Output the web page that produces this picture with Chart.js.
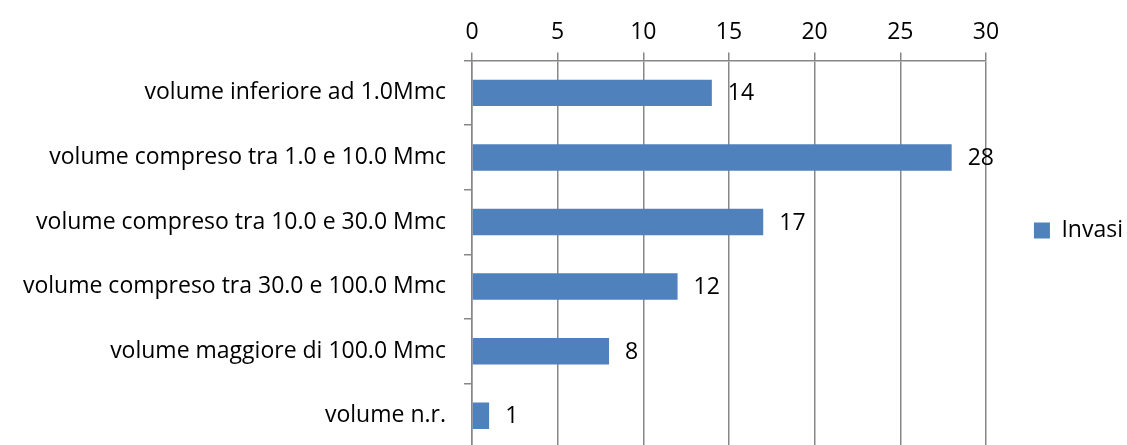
<!DOCTYPE html>
<html lang="it">
<head>
    <meta charset="UTF-8">
    <title>Invasi per volume</title>
    <style>
        html, body {
            margin: 0;
            padding: 0;
            background: #ffffff;
            overflow: hidden;
        }
        canvas {
            display: block;
        }
    </style>
</head>
<body>
    <canvas id="invasiChart" width="1127" height="448"></canvas>

    <script src="https://cdn.jsdelivr.net/npm/chart.js"></script>
    <script>
        // Data
        const categories = [
            'volume inferiore ad 1.0Mmc',
            'volume compreso tra 1.0 e 10.0 Mmc',
            'volume compreso tra 10.0 e 30.0 Mmc',
            'volume compreso tra 30.0 e 100.0 Mmc',
            'volume maggiore di 100.0 Mmc',
            'volume n.r.'
        ];
        const invasi = [14, 28, 17, 12, 8, 1];
        const seriesName = 'Invasi';
        const xTicks = [0, 5, 10, 15, 20, 25, 30];

        const fontFamily = '"Open Sans", sans-serif';
        const fontSize = 23;
        const axisGray = '#878787';

        // value labels just past the end of each bar
        const valueLabels = {
            id: 'valueLabels',
            afterDatasetsDraw(chart) {
                const ctx = chart.ctx;
                const meta = chart.getDatasetMeta(0);
                ctx.save();
                ctx.font = fontSize + 'px ' + fontFamily;
                ctx.fillStyle = '#000000';
                ctx.textAlign = 'left';
                ctx.textBaseline = 'middle';
                meta.data.forEach(function(bar, i) {
                    ctx.fillText(String(invasi[i]), bar.x + 16, bar.y + 1);
                });
                ctx.restore();
            }
        };

        const ctx = document.getElementById('invasiChart').getContext('2d');
        new Chart(ctx, {
            type: 'bar',
            data: {
                labels: categories,
                datasets: [{
                    label: seriesName,
                    data: invasi,
                    backgroundColor: '#4f81bd',
                    borderColor: '#4f81bd',
                    borderWidth: 0,
                    barPercentage: 0.41,
                    categoryPercentage: 1.0
                }]
            },
            options: {
                indexAxis: 'y',
                responsive: false,
                animation: false,
                layout: {
                    padding: { top: 13, right: -6, bottom: 0, left: 0 }
                },
                plugins: {
                    tooltip: { enabled: false },
                    legend: {
                        position: 'right',
                        labels: {
                            boxWidth: 16,
                            boxHeight: 16,
                            padding: 48,
                            color: '#000000',
                            font: { family: fontFamily, size: fontSize }
                        }
                    }
                },
                scales: {
                    x: {
                        position: 'top',
                        min: 0,
                        max: 30,
                        afterBuildTicks: function(axis) {
                            axis.ticks = xTicks.map(v => ({ value: v }));
                        },
                        grid: {
                            color: axisGray,
                            lineWidth: 1.5,
                            tickLength: 8
                        },
                        border: { color: axisGray, width: 1.5 },
                        ticks: {
                            color: '#000000',
                            padding: 6,
                            font: { family: fontFamily, size: fontSize }
                        }
                    },
                    y: {
                        afterFit: function(axis) {
                            axis.width = 472;
                            axis.paddingTop = 0;
                            axis.paddingBottom = 0;
                        },
                        grid: {
                            offset: true,
                            drawOnChartArea: false,
                            color: axisGray,
                            lineWidth: 1.5,
                            tickLength: 8
                        },
                        border: { color: axisGray, width: 1.5 },
                        ticks: {
                            color: '#000000',
                            padding: 18,
                            font: { family: fontFamily, size: fontSize }
                        }
                    }
                }
            },
            plugins: [valueLabels]
        });
    </script>
</body>
</html>
